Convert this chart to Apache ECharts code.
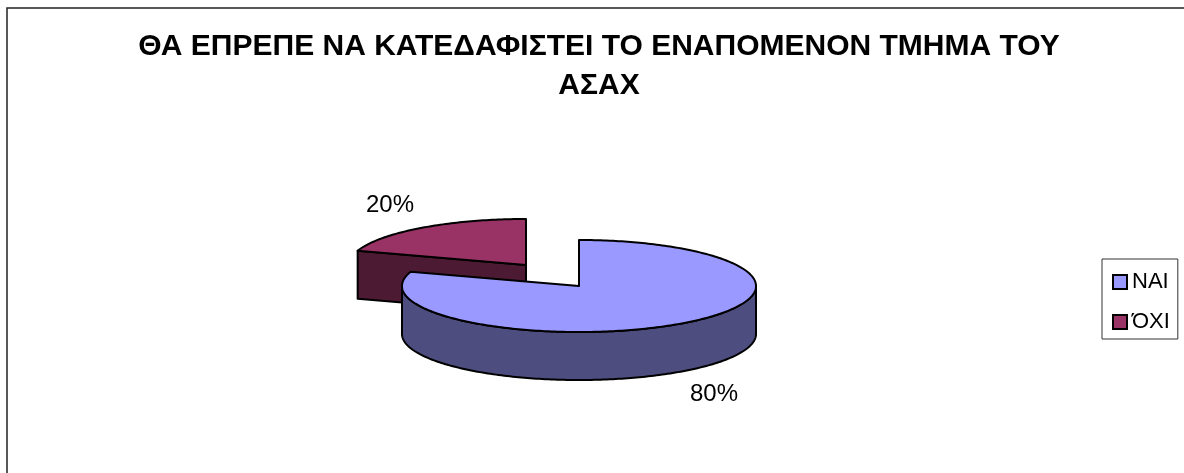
<!DOCTYPE html>
<html><head><meta charset="utf-8">
<script src="https://cdn.jsdelivr.net/npm/echarts@6/dist/echarts.min.js"></script>
<style>html,body{margin:0;padding:0;background:#fff}#c{width:1184px;height:473px}</style>
</head><body><div id="c"></div>
<script>
const titleText = 'ΘΑ ΕΠΡΕΠΕ ΝΑ ΚΑΤΕΔΑΦΙΣΤΕΙ ΤΟ ΕΝΑΠΟΜΕΝΟΝ ΤΜΗΜΑ ΤΟΥ\nΑΣΑΧ';
const categories = ['ΝΑΙ', 'ΌΧΙ'];
const values = [80, 20];
const topColors = ['#9999FF', '#993366'];
const sideColors = ['#4D4D80', '#4D1A33'];

const total = values.reduce((a, b) => a + b, 0);
const RX = 177, RY = 46, DEPTH = 48, CX = 579, CY = 286;
const offsets = [[0, 0], [-53, -21]];
const labelPos = [[714, 394], [390, 205]];
const stroke = { stroke: '#000', lineWidth: 2, lineJoin: 'round' };

function pt(cx, cy, deg, dy) {
  const a = deg * Math.PI / 180;
  return [cx + RX * Math.sin(a), cy - RY * Math.cos(a) + (dy || 0)];
}
function renderSlice(i) {
  const before = values.slice(0, i).reduce((a, b) => a + b, 0);
  const start = before / total * 360, end = (before + values[i]) / total * 360;
  const cx = CX + offsets[i][0], cy = CY + offsets[i][1];
  const topPts = [[cx, cy]];
  for (let d = start; d <= end + 1e-6; d += 1) topPts.push(pt(cx, cy, d));
  const children = [];
  const sideStyle = Object.assign({ fill: sideColors[i] }, stroke);
  // outer wall: the part of the rim facing the viewer (90..270 degrees)
  const s = Math.max(start, 90), e = Math.min(end, 270);
  if (e > s) {
    const wall = [];
    for (let d = s; d <= e + 1e-6; d += 1) wall.push(pt(cx, cy, d));
    for (let d = e; d >= s - 1e-6; d -= 1) wall.push(pt(cx, cy, d, DEPTH));
    children.push({ type: 'polygon', shape: { points: wall }, style: sideStyle });
  }
  // cut face: the radial wall at the slice start when it faces the viewer
  if (start > 180 && start < 360) {
    const p = pt(cx, cy, start);
    children.push({ type: 'polygon', shape: { points: [[cx, cy], p, [p[0], p[1] + DEPTH], [cx, cy + DEPTH]] }, style: sideStyle });
  }
  children.push({ type: 'polygon', shape: { points: topPts }, style: Object.assign({ fill: topColors[i] }, stroke) });
  children.push({ type: 'text', style: {
    text: Math.round(values[i] / total * 100) + '%',
    x: labelPos[i][0], y: labelPos[i][1], align: 'center', verticalAlign: 'middle',
    font: '24px "Liberation Sans"', fill: '#000'
  }});
  return { type: 'group', children };
}

const chart = echarts.init(document.getElementById('c'), null, { renderer: 'canvas' });
chart.setOption({
  animation: false,
  backgroundColor: '#fff',
  title: {
    text: titleText, left: 594, top: 22, textAlign: 'center',
    textStyle: { fontFamily: 'Liberation Sans', fontWeight: 'bold', fontSize: 30, lineHeight: 39, color: '#000' }
  },
  legend: {
    orient: 'vertical', left: 1102, top: 259, padding: [12, 8, 6, 10], itemGap: 18,
    itemWidth: 14, itemHeight: 14, icon: 'rect',
    borderColor: '#333', borderWidth: 1, backgroundColor: '#fff',
    itemStyle: { borderColor: '#000', borderWidth: 2 },
    textStyle: { fontFamily: 'Liberation Sans', fontSize: 22, lineHeight: 20, color: '#000' },
    data: categories
  },
  graphic: [{ type: 'rect', silent: true, z: -1, shape: { x: 7, y: 8, width: 1400, height: 700 },
    style: { fill: 'none', stroke: '#222', lineWidth: 1.5 } }],
  series: categories.map((name, i) => ({
    type: 'custom', name, coordinateSystem: 'none', silent: true, clip: false,
    z: i === 0 ? 3 : 2,
    itemStyle: { color: topColors[i] },
    data: [values[i]],
    renderItem: () => renderSlice(i)
  }))
});
</script></body></html>
